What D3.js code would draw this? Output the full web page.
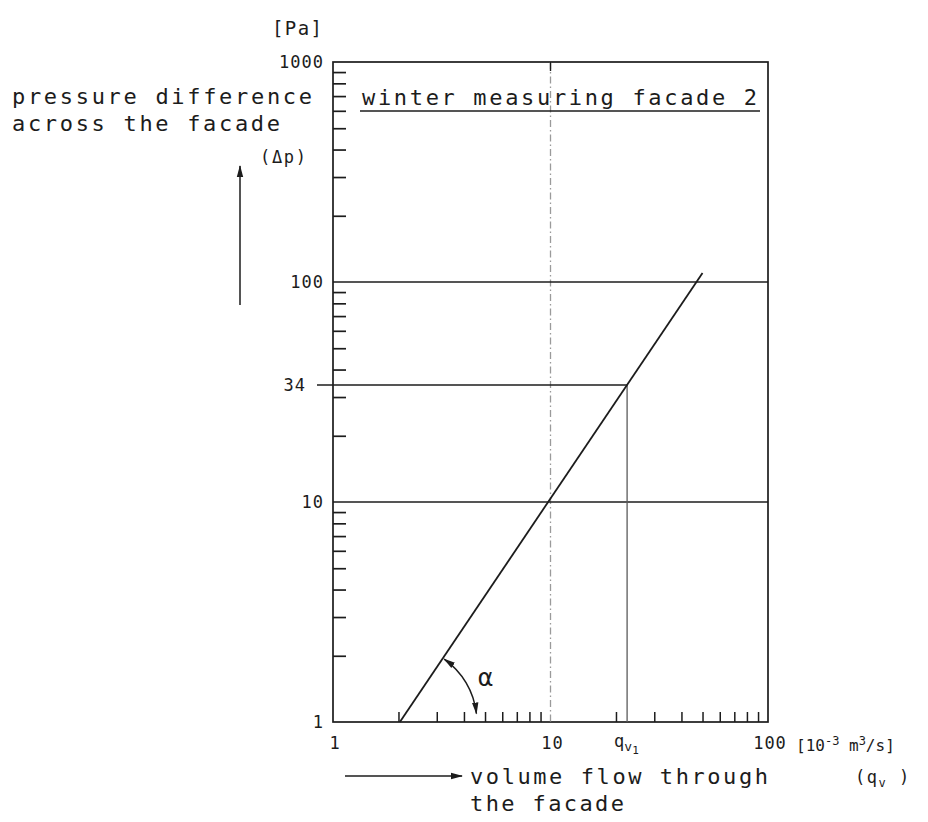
<!DOCTYPE html>
<html>
<head>
<meta charset="utf-8">
<script src="https://cdn.jsdelivr.net/npm/d3@7/dist/d3.min.js"></script>
<style>
  html, body { margin: 0; padding: 0; background: #fff; }
  svg { display: block; }
  text { font-family: "DejaVu Sans Mono", "Liberation Mono", monospace; fill: #1c1c1c; }
</style>
</head>
<body>
<svg id="chart" width="928" height="822"></svg>
<script>
// Flow characteristic of the facade (log–log)
const flowLine = [2.03, 50];          // q_v [10^-3 m3/s] at the ends of the characteristic
const pressureLine = [1, 110];         // Δp [Pa] at the ends of the characteristic
const qv1 = 22.5;
const dpRef = 34;                      // reference pressure difference [Pa]
const gridPressures = [10, 100];       // full-width horizontal reference lines
const yTickValues = [1, 10, 34, 100, 1000];
const yTickLabels = ["1", "10", "34", "100", "1000"];
const xTickValues = [1, 10, 100];
const xTickLabels = ["1", "10", "100"];
const yMinorTicks = [2,3,4,5,6,7,8,9, 20,30,40,50,60,70,80,90, 200,300,400,500,600,700,800,900];
const xMinorTicks = [2,3,4,5,6,7,8,9, 20,30,40,50,60,70,80,90];

const svg = d3.select("#chart");
const ink = "#1c1c1c";

const x = d3.scaleLog().domain([1, 100]).range([333, 768]);
const y = d3.scaleLog().domain([1, 1000]).range([722, 62]);

// frame
svg.append("rect")
  .attr("x", x(1)).attr("y", y(1000))
  .attr("width", x(100) - x(1)).attr("height", y(1) - y(1000))
  .attr("fill", "none").attr("stroke", ink).attr("stroke-width", 1.7);

// minor ticks on the pressure axis (pointing inward)
const yAxis = svg.append("g")
  .attr("transform", `translate(${x(1)},0)`)
  .call(d3.axisRight(y).tickValues(yMinorTicks).tickSize(13).tickFormat(""));
yAxis.select(".domain").remove();
yAxis.selectAll(".tick line").attr("stroke", ink).attr("stroke-width", 1.7);

// minor ticks on the flow axis (pointing upward)
const xAxis = svg.append("g")
  .attr("transform", `translate(0,${y(1)})`)
  .call(d3.axisTop(x).tickValues(xMinorTicks).tickSize(10).tickFormat(""));
xAxis.select(".domain").remove();
xAxis.selectAll(".tick line").attr("stroke", ink).attr("stroke-width", 1.5);

// dash-dot vertical at q = 10
svg.append("line")
  .attr("x1", x(10)).attr("x2", x(10))
  .attr("y1", y(1000)).attr("y2", y(1))
  .attr("stroke", "#9a9a9a").attr("stroke-width", 1.3)
  .attr("stroke-dasharray", "7,3,1.5,3");
svg.append("line")
  .attr("x1", x(10)).attr("x2", x(10))
  .attr("y1", y(1000)).attr("y2", y(1000) + 9)
  .attr("stroke", ink).attr("stroke-width", 1.4);

// horizontal reference lines
svg.selectAll("line.grid")
  .data(gridPressures)
  .join("line")
  .attr("class", "grid")
  .attr("x1", x(1)).attr("x2", x(100))
  .attr("y1", d => y(d)).attr("y2", d => y(d))
  .attr("stroke", ink).attr("stroke-width", 1.6);

svg.append("line")
  .attr("x1", x(1) - 16).attr("x2", x(qv1))
  .attr("y1", y(dpRef)).attr("y2", y(dpRef))
  .attr("stroke", ink).attr("stroke-width", 1.6);
svg.append("line")
  .attr("x1", x(qv1)).attr("x2", x(qv1))
  .attr("y1", y(dpRef)).attr("y2", y(1))
  .attr("stroke", "#5a5a5a").attr("stroke-width", 1.3);

// the characteristic
const line = d3.line().x(d => x(d[0])).y(d => y(d[1]));
svg.append("path")
  .datum(flowLine.map((q, i) => [q, pressureLine[i]]))
  .attr("d", line)
  .attr("fill", "none").attr("stroke", ink).attr("stroke-width", 1.8);

// arrowheads
const defs = svg.append("defs");
defs.append("marker")
  .attr("id", "head")
  .attr("viewBox", "0 0 12 8")
  .attr("refX", 11).attr("refY", 4)
  .attr("markerWidth", 12).attr("markerHeight", 8)
  .attr("markerUnits", "userSpaceOnUse")
  .attr("orient", "auto-start-reverse")
  .append("path").attr("d", "M0,0.8 L12,4 L0,7.2 Z").attr("fill", ink);

// angle α between the characteristic and the flow axis
const cx = x(flowLine[0]), cy = y(pressureLine[0]);
const ang = Math.atan2(y(pressureLine[1]) - cy, x(flowLine[1]) - cx);
const r = 77;
const arcPath = d3.path();
arcPath.arc(cx, cy, r, ang + 0.02, -0.11, false);
svg.append("path")
  .attr("d", arcPath.toString())
  .attr("fill", "none").attr("stroke", ink).attr("stroke-width", 1.5)
  .attr("marker-start", "url(#head)").attr("marker-end", "url(#head)");
svg.append("text")
  .attr("x", cx + 78).attr("y", cy - 36)
  .attr("font-size", 25).text("α");

// pressure tick labels
svg.selectAll("text.ylab")
  .data(yTickValues)
  .join("text")
  .attr("class", "ylab")
  .attr("x", d => d === dpRef ? x(1) - 27 : x(1) - 9)
  .attr("y", d => y(d) + 6)
  .attr("text-anchor", "end")
  .attr("font-size", 17)
  .attr("letter-spacing", 1)
  .text((d, i) => yTickLabels[i]);

// flow tick labels
svg.selectAll("text.xlab")
  .data(xTickValues)
  .join("text")
  .attr("class", "xlab")
  .attr("x", d => x(d) + 2)
  .attr("y", y(1) + 27)
  .attr("text-anchor", "middle")
  .attr("font-size", 17)
  .attr("letter-spacing", 1)
  .text((d, i) => xTickLabels[i]);

// q_v1 label
const qlab = svg.append("text")
  .attr("x", x(qv1) - 13).attr("y", y(1) + 25)
  .attr("font-size", 17);
qlab.append("tspan").text("q");
qlab.append("tspan").attr("font-size", 13).attr("dy", 4).text("v");
qlab.append("tspan").attr("font-size", 11).attr("dy", 3).text("1");

// units
svg.append("text")
  .attr("x", 272).attr("y", 35)
  .attr("font-size", 19).attr("textLength", 50).attr("lengthAdjust", "spacing")
  .text("[Pa]");

const unit = svg.append("text")
  .attr("x", 796).attr("y", 751).attr("font-size", 16);
unit.append("tspan").text("[10");
unit.append("tspan").attr("font-size", 12).attr("dy", -6).text("-3");
unit.append("tspan").attr("dy", 6).text(" m");
unit.append("tspan").attr("font-size", 12).attr("dy", -6).text("3");
unit.append("tspan").attr("dy", 6).text("/s]");

// title
svg.append("text")
  .attr("x", 362).attr("y", 105)
  .attr("font-size", 22).attr("textLength", 395).attr("lengthAdjust", "spacing")
  .text("winter measuring facade 2");
svg.append("line")
  .attr("x1", 360).attr("x2", 760).attr("y1", 111).attr("y2", 111)
  .attr("stroke", ink).attr("stroke-width", 1.4);

// pressure axis caption
svg.append("text")
  .attr("x", 12).attr("y", 104)
  .attr("font-size", 22).attr("textLength", 300).attr("lengthAdjust", "spacing")
  .text("pressure difference");
svg.append("text")
  .attr("x", 12).attr("y", 131)
  .attr("font-size", 22).attr("textLength", 268).attr("lengthAdjust", "spacing")
  .text("across the facade");
svg.append("text")
  .attr("x", 260).attr("y", 163)
  .attr("font-size", 17).attr("textLength", 46).attr("lengthAdjust", "spacing")
  .text("(Δp)");
svg.append("line")
  .attr("x1", 240).attr("x2", 240).attr("y1", 305).attr("y2", 166)
  .attr("stroke", ink).attr("stroke-width", 1.5)
  .attr("marker-end", "url(#head)");

// flow axis caption
svg.append("line")
  .attr("x1", 345).attr("x2", 462).attr("y1", 776).attr("y2", 776)
  .attr("stroke", ink).attr("stroke-width", 1.5)
  .attr("marker-end", "url(#head)");
svg.append("text")
  .attr("x", 470).attr("y", 784)
  .attr("font-size", 22).attr("textLength", 298).attr("lengthAdjust", "spacing")
  .text("volume flow through");
svg.append("text")
  .attr("x", 470).attr("y", 811)
  .attr("font-size", 22).attr("textLength", 154).attr("lengthAdjust", "spacing")
  .text("the facade");
const qv = svg.append("text")
  .attr("x", 855).attr("y", 783).attr("font-size", 17).attr("letter-spacing", 1.5);
qv.append("tspan").text("(q");
qv.append("tspan").attr("font-size", 12).attr("dy", 4).text("v");
qv.append("tspan").attr("dy", -4).text(" )");
</script>
</body>
</html>
